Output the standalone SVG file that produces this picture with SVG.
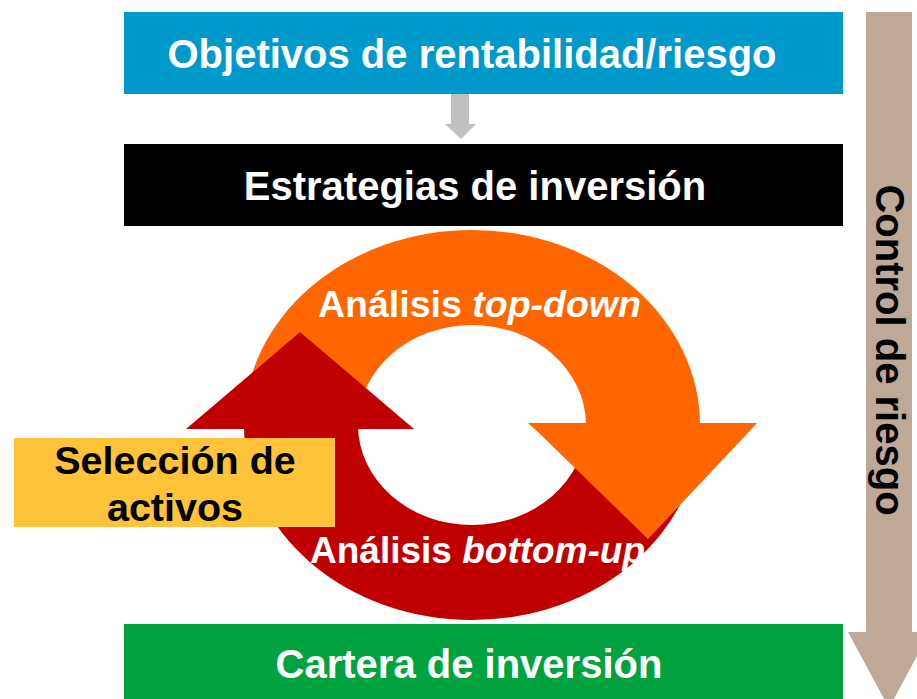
<svg xmlns="http://www.w3.org/2000/svg" width="917" height="699" viewBox="0 0 917 699">
<style>
text{font-family:"Liberation Sans",Arial,sans-serif;font-weight:bold}
.w{fill:#fff}
.k{fill:#000}
</style>
<rect width="917" height="699" fill="#fff"/>
<g id="connectors">
<polygon id="gray-arrow" points="451,94 469,94 469,124 476,124 461,139 445,124 451,124" fill="#C0C0C0"/>
<polygon id="risk-arrow" points="866,12 912,12 912,632 930,632 889,708 848,632 866,632" fill="#BEA898"/>
</g>
<g id="cycle">
<path id="ring-top" d="M244,425 A228,195 0 0 1 700,425 L586,425 A114,100 0 0 0 358,425 Z" fill="#FF6600"/>
<path id="ring-bottom" d="M244,425 A228,195 0 0 0 700,425 L586,425 A114,100 0 0 1 358,425 Z" fill="#C00000"/>
<polygon id="red-head" points="186,429 300,332 414,429" fill="#C00000"/>
<text class="w" x="310" y="563" font-size="37">Análisis <tspan font-style="italic">bottom-up</tspan></text>
<polygon id="orange-head" points="528,423 757,423 744,437 648,539 538,432" fill="#FF6600"/>
<text class="w" x="318" y="317" font-size="37.5">Análisis <tspan font-style="italic">top-down</tspan></text>
</g>
<g id="objetivos">
<rect x="124" y="12" width="719" height="82" fill="#0099CC"/>
<text class="w" x="472" y="68" font-size="40" text-anchor="middle">Objetivos de rentabilidad/riesgo</text>
</g>
<g id="estrategias">
<rect x="124" y="144" width="719" height="82" fill="#000"/>
<text class="w" x="475" y="200" font-size="40" text-anchor="middle">Estrategias de inversión</text>
</g>
<g id="seleccion">
<rect x="14" y="438" width="321" height="89" fill="#FFC33A"/>
<text class="k" x="175" y="474" font-size="39.5" text-anchor="middle">Selección de</text>
<text class="k" x="175" y="521" font-size="39.5" text-anchor="middle">activos</text>
</g>
<g id="cartera">
<rect x="124" y="624" width="719" height="80" fill="#00A33E"/>
<text class="w" x="469" y="678" font-size="40" text-anchor="middle">Cartera de inversión</text>
</g>
<g id="control">
<text class="k" transform="translate(876,350) rotate(90)" font-size="40" text-anchor="middle">Control de riesgo</text>
</g>
</svg>
